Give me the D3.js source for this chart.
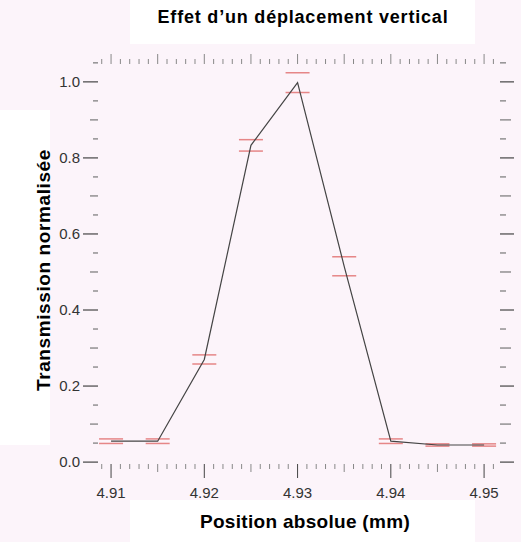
<!DOCTYPE html>
<html>
<head>
<meta charset="utf-8">
<script src="https://cdn.jsdelivr.net/npm/d3@7"></script>
<style>
  body { margin: 0; background: #fcf4fa; }
  text { font-family: "Liberation Sans", Arial, sans-serif; }
</style>
</head>
<body>
<svg id="chart" width="521" height="542"></svg>
<script>
// data
const positions = [4.910, 4.915, 4.920, 4.925, 4.930, 4.935, 4.940, 4.945, 4.950];
const transmission = [0.055, 0.055, 0.270, 0.833, 0.998, 0.515, 0.055, 0.045, 0.045];
const errors = [0.006, 0.006, 0.012, 0.015, 0.026, 0.025, 0.006, 0.003, 0.003];
const xTickLabels = [4.91, 4.92, 4.93, 4.94, 4.95];
const yTickLabels = [0.0, 0.2, 0.4, 0.6, 0.8, 1.0];

const svg = d3.select('#chart');
const mLeft = 98, mRight = 499, mTop = 64, mBottom = 464;

// white patches behind the texts
svg.append('rect').attr('x', 130).attr('y', 0).attr('width', 345).attr('height', 44).attr('fill', '#fff');
svg.append('rect').attr('x', 0).attr('y', 110).attr('width', 50).attr('height', 335).attr('fill', '#fff');
svg.append('rect').attr('x', 130).attr('y', 500).attr('width', 345).attr('height', 42).attr('fill', '#fff');

const x = d3.scaleLinear().domain([4.9086, 4.9516]).range([mLeft, mRight]);
const y = d3.scaleLinear().domain([-0.005, 1.047]).range([mBottom, mTop]);

const near = (a, b) => Math.abs(a - b) < 1e-6;

// ticks every 0.001 on x, every 0.05 on y
const xTicks = d3.range(4909, 4952).map(v => v / 1000);
const yTicks = d3.range(0, 22).map(v => v * 0.05);

const xKind = v => near(Math.round(v * 100) / 100, v) ? 2 : near(Math.round(v * 200) / 200, v) ? 1 : 0;
const yKind = v => near(Math.round(v * 5) / 5, v) ? 2 : near(Math.round(v * 10) / 10, v) ? 1 : 0;

// bottom ticks, pointing down
svg.append('g').selectAll('line').data(xTicks).join('line')
  .attr('x1', d => x(d)).attr('x2', d => x(d))
  .attr('y1', mBottom).attr('y2', d => mBottom + [5, 8, 14][xKind(d)])
  .attr('stroke', d => xKind(d) === 2 ? '#444' : '#888').attr('stroke-width', 1);

// top ticks, pointing up
svg.append('g').selectAll('line').data(xTicks).join('line')
  .attr('x1', d => x(d)).attr('x2', d => x(d))
  .attr('y1', mTop).attr('y2', d => mTop - [5, 10, 10][xKind(d)])
  .attr('stroke', '#888').attr('stroke-width', 1);

// left ticks
svg.append('g').selectAll('line').data(yTicks).join('line')
  .attr('y1', d => y(d)).attr('y2', d => y(d))
  .attr('x1', mLeft).attr('x2', d => mLeft - [5, 8, 15][yKind(d)])
  .attr('stroke', d => yKind(d) === 2 ? '#444' : '#777').attr('stroke-width', 1.2);

// right ticks
svg.append('g').selectAll('line').data(yTicks).join('line')
  .attr('y1', d => y(d)).attr('y2', d => y(d))
  .attr('x1', mRight + 1).attr('x2', d => mRight + 1 + [6, 11, 14][yKind(d)])
  .attr('stroke', d => yKind(d) === 2 ? '#444' : '#777').attr('stroke-width', 1.2);

// tick labels
svg.append('g').selectAll('text').data(xTickLabels).join('text')
  .attr('x', d => x(d)).attr('y', 498)
  .attr('text-anchor', 'middle').attr('font-size', 15).attr('fill', '#333')
  .text(d => d3.format('.2f')(d));

svg.append('g').selectAll('text').data(yTickLabels).join('text')
  .attr('x', 80).attr('y', d => y(d) + 5)
  .attr('text-anchor', 'end').attr('font-size', 15).attr('fill', '#333')
  .text(d => d3.format('.1f')(d));

// error caps
const caps = positions.flatMap((p, i) => [
  { p, v: transmission[i] + errors[i] },
  { p, v: transmission[i] - errors[i] }
]);
svg.append('g').selectAll('line').data(caps).join('line')
  .attr('x1', d => x(d.p) - 12).attr('x2', d => x(d.p) + 12)
  .attr('y1', d => y(d.v)).attr('y2', d => y(d.v))
  .attr('stroke', '#e06a6a').attr('stroke-opacity', 0.8).attr('stroke-width', 1.5);

// data line
const line = d3.line().x((d, i) => x(positions[i])).y(d => y(d));
svg.append('path').datum(transmission)
  .attr('d', line).attr('fill', 'none')
  .attr('stroke', '#444').attr('stroke-width', 1.2);

// titles
svg.append('text').attr('x', 303).attr('y', 23)
  .attr('text-anchor', 'middle').attr('font-size', 18).attr('font-weight', 'bold')
  .attr('letter-spacing', 0.8)
  .text('Effet d’un déplacement vertical');

svg.append('text').attr('x', 305).attr('y', 528)
  .attr('text-anchor', 'middle').attr('font-size', 19).attr('font-weight', 'bold')
  .attr('letter-spacing', 0.3)
  .text('Position absolue (mm)');

svg.append('text')
  .attr('transform', 'translate(50,270) rotate(-90)')
  .attr('text-anchor', 'middle').attr('font-size', 19).attr('font-weight', 'bold')
  .attr('letter-spacing', 0.6)
  .text('Transmission normalisée');
</script>
</body>
</html>
